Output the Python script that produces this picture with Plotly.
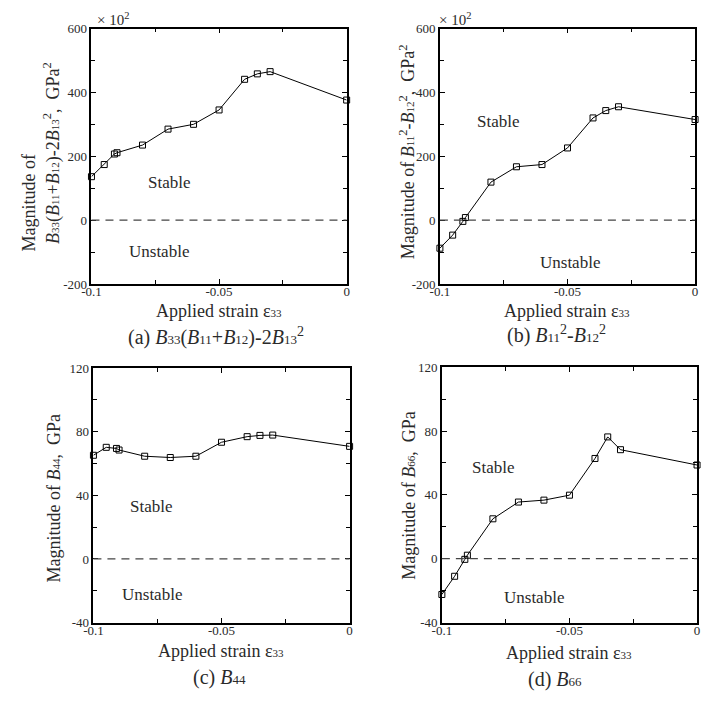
import plotly.graph_objects as go

W = H = 703

strain = [-0.1, -0.095, -0.091, -0.09, -0.08, -0.07, -0.06, -0.05, -0.04, -0.035, -0.03, 0.0]
crit_a = [136, 174, 207, 211, 235, 285, 300, 345, 441, 458, 465, 376]
crit_b = [-88, -47, -4, 8, 119, 167, 174, 226, 320, 343, 355, 315]
b44 = [65.2, 70.2, 69.5, 68.5, 64.6, 63.8, 64.6, 73.4, 76.9, 77.7, 77.9, 70.8]
b66 = [-22.4, -11, -0.4, 2.2, 25, 35.5, 36.7, 39.8, 62.8, 76.3, 68.3, 58.7]

x_ticks = [-0.1, -0.05, 0]
x_ticklabels = ["-0.1", "-0.05", "0"]
y_ticks_ab = [-200, 0, 200, 400, 600]
y_ticks_cd = [-40, 0, 40, 80, 120]

SER = "Liberation Serif, Times New Roman, serif"
TXT = "#2a2a2a"


def sm(s, size=11):
    return f"<span style='font-size:{size}px'>{s}</span>"


def B(sub, size=11):
    return f"<i>B</i>{sm(sub, size)}"


eps_title = "Applied strain ε" + sm("33")

# panel pixel boxes: (left, right, top, bottom)
boxes = {
    "a": (83, 343, 22, 283),
    "b": (438, 698, 22, 283),
    "c": (85, 346, 369, 629),
    "d": (440, 700, 368, 629),
}


def xd(l, r):
    return [l / W, r / W]


def yd(t, b):
    return [1 - b / H, 1 - t / H]


fig = go.Figure()

panels = [
    ("a", crit_a, y_ticks_ab, [-200, 600], 100, ""),
    ("b", crit_b, y_ticks_ab, [-200, 600], 100, "2"),
    ("c", b44, y_ticks_cd, [-40, 120], 20, "3"),
    ("d", b66, y_ticks_cd, [-40, 120], 20, "4"),
]

layout = dict(
    width=W, height=H, margin=dict(l=0, r=0, t=0, b=0),
    paper_bgcolor="white", plot_bgcolor="white", showlegend=False,
    font=dict(family=SER, color=TXT, size=13),
)

shapes = []
for key, ys, yt, yr, minor_dt, sfx in panels:
    l, r, t, b = boxes[key]
    fig.add_trace(go.Scatter(
        x=strain, y=ys, mode="lines+markers",
        xaxis="x" + sfx, yaxis="y" + sfx,
        line=dict(color="black", width=1),
        marker=dict(symbol="square-open", size=6, color="black", line=dict(width=1)),
        cliponaxis=False,
    ))
    common = dict(showline=True, linecolor="black", linewidth=1.5, mirror="ticks",
                  ticks="inside", ticklen=5, tickwidth=1, tickcolor="black",
                  showgrid=False, zeroline=False,
                  tickfont=dict(family=SER, size=13, color=TXT))
    layout["xaxis" + sfx] = dict(
        domain=xd(l, r), range=[-0.1, 0], anchor="y" + sfx,
        tickvals=x_ticks, ticktext=x_ticklabels, ticklabelstandoff=-5,
        minor=dict(tickvals=[-0.075, -0.025], ticks="inside", ticklen=4, tickcolor="black"),
        **common)
    layout["yaxis" + sfx] = dict(
        domain=yd(t, b), range=yr, anchor="x" + sfx,
        tickvals=yt, ticktext=[str(v) for v in yt],
        minor=dict(dtick=minor_dt, ticks="inside", ticklen=4, tickcolor="black"),
        **common)
    shapes.append(dict(type="line", xref=("x" + sfx) + " domain", yref="y" + sfx,
                       x0=0, x1=1, y0=0, y1=0,
                       line=dict(color="#444", width=1.2, dash="8px,6px")))

layout["shapes"] = shapes

ann = []


def pa(x, y, text, size=18, angle=0, **kw):
    ann.append(dict(x=x / W, y=1 - y / H, xref="paper", yref="paper", text=text,
                    showarrow=False, textangle=angle,
                    font=dict(family=SER, size=size, color=TXT),
                    xanchor="center", yanchor="middle", **kw))


def da(sfx, x, y, text, size=17):
    ann.append(dict(x=x, y=y, xref="x" + sfx, yref="y" + sfx, text=text,
                    showarrow=False, font=dict(family=SER, size=size, color=TXT),
                    xanchor="center", yanchor="middle"))


# x titles
pa(213, 311, eps_title)
pa(568, 311, eps_title)
pa(215, 658, eps_title)
pa(570, 660, eps_title)

# captions
CS = 13
pa(210, 337, "(a) " + B("33", CS) + "(" + B("11", CS) + "+" + B("12", CS) + ")-2" + B("13", CS) + "<sup>2</sup>", size=20)
pa(557, 335, "(b) " + B("11", CS) + "<sup>2</sup>-" + B("12", CS) + "<sup>2</sup>", size=20)
pa(213, 685, "(c) " + B("44", CS), size=20)
pa(555, 687, "(d) " + B("66", CS), size=20)

# y titles
pa(19, 200, "Magnitude of", angle=-90)
pa(43, 149, B("33") + "(" + B("11") + "+" + B("12") + ")-2" + B("13") + "<sup>2</sup>,  GPa<sup>2</sup>", angle=-90)
pa(405, 148, "Magnitude of " + B("11") + "<sup>2</sup>-" + B("12") + "<sup>2</sup>,  GPa<sup>2</sup>", angle=-90)
pa(45, 502, "Magnitude of " + B("44") + ",  GPa", angle=-90)
pa(407, 499, "Magnitude of " + B("66") + ",  GPa", angle=-90)

# x10^2 multipliers
pa(105, 12, "× 10<sup>2</sup>", size=15)
pa(453, 12, "× 10<sup>2</sup>", size=15)

# stable / unstable
da("", -0.0696, 119, "Stable")
da("", -0.0735, -99, "Unstable")
da("2", -0.0771, 309, "Stable")
da("2", -0.0492, -132, "Unstable")
da("3", -0.0774, 33, "Stable")
da("3", -0.077, -22.3, "Unstable")
da("4", -0.0797, 57.4, "Stable")
da("4", -0.0638, -24, "Unstable")

layout["annotations"] = ann
fig.update_layout(**layout)
fig.write_html("out.html")
